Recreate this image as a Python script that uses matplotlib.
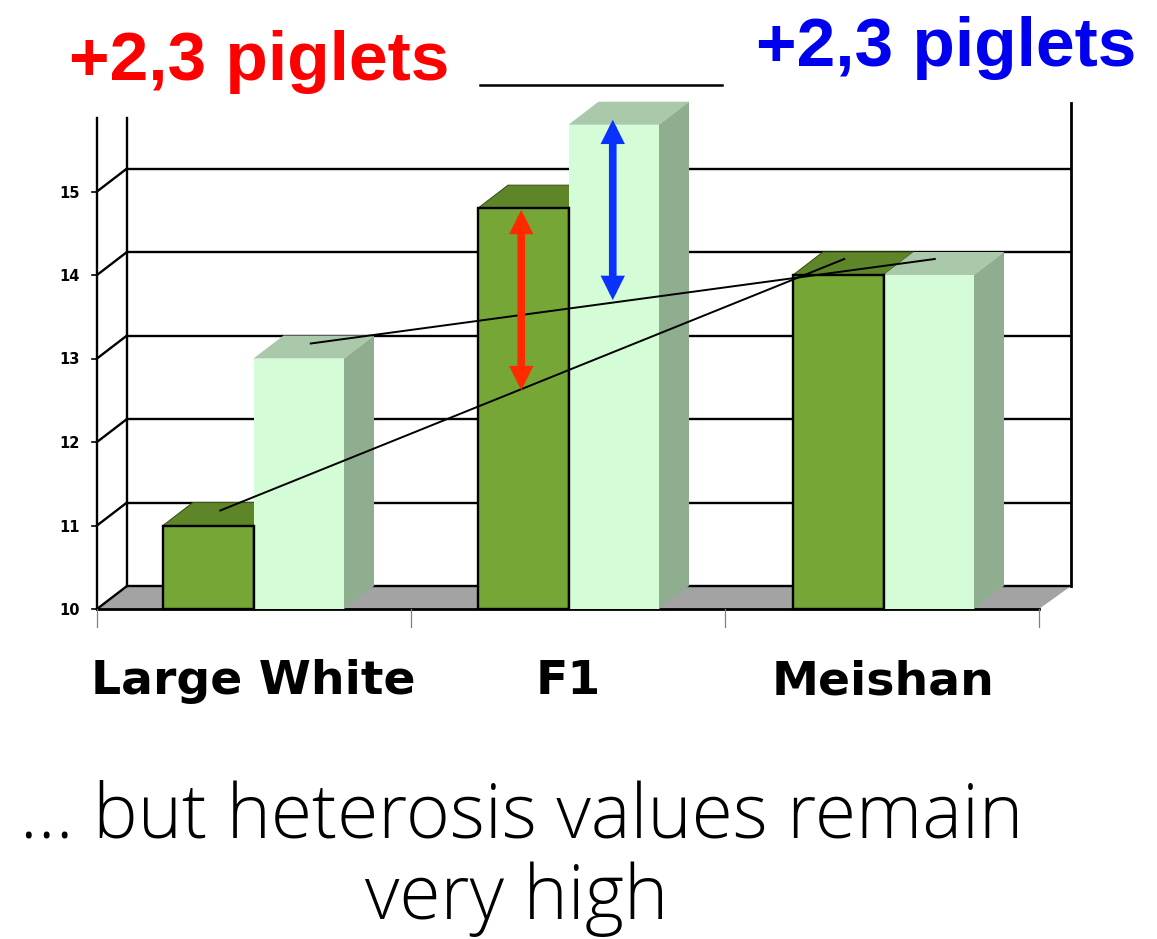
import numpy as np
import matplotlib
matplotlib.use('Agg')
import matplotlib.pyplot as plt
from matplotlib.patches import Polygon, FancyArrowPatch

W, H = 1157, 939

categories = ['Large White', 'F1', 'Meishan']
dark_values = [11.0, 14.8, 14.0]
light_values = [13.0, 15.8, 14.0]
y_ticks = [10, 11, 12, 13, 14, 15]
red_arrow = [14.78, 12.62]
blue_arrow = [15.86, 13.70]

GREEN = '#76a636'
GREEN_TOP = '#5f8529'
LIGHT = '#d4fcd6'
LIGHT_TOP = '#aac8aa'
LIGHT_SIDE = '#8fae8f'
FLOOR = '#a3a3a3'

fig = plt.figure(figsize=(W / 100, H / 100), dpi=100, facecolor='white')
ax = fig.add_axes([0, 0, 1, 1])
ax.axis('off')

# one category = 314 px, one unit on y = 83.5 px
sx, sy = 314.0, 83.5
ax.set_xlim(-97 / sx, (W - 97) / sx)
ax.set_ylim(10 - (H - 609) / sy, 10 + 609 / sy)

dx, dy = 30 / sx, 23 / sy    # depth of the fake 3d
wall_dx = 32 / sx
bar_w = 90.5 / sx
bar_off = 66 / sx
step = 315 / sx              # bars drift a little against the ticks
n = len(categories)
wall_right = n + wall_dx
y_top = y_ticks[0] + (609 - 118) / sy
wall_top = y_ticks[0] + (609 - 103) / sy

# floor
ax.add_patch(Polygon([[0, 10], [dx, 10 + dy], [wall_right, 10 + dy], [n, 10]], fc=FLOOR, ec='none', zorder=1))

# walls and grid
for t in y_ticks:
    ax.plot([0, dx], [t, t + dy], color='black', lw=1.7, zorder=2)
    ax.plot([dx, wall_right], [t + dy, t + dy], color='black', lw=1.7, zorder=2)
    ax.plot([-5 / sx, 0], [t, t], color='black', lw=1.2, zorder=2)
    ax.text(-17 / sx, t - 1.5 / sy, str(t), ha='right', va='center', fontsize=10.5, fontweight='bold', family='DejaVu Sans')
ax.plot([0, 0], [10, y_top], color='black', lw=1.7, zorder=2)
ax.plot([dx, dx], [10 + dy, y_top], color='black', lw=1.7, zorder=2)
ax.plot([wall_right, wall_right], [10 + dy, wall_top], color='black', lw=2, zorder=2)
ax.plot([0, n], [10, 10], color='black', lw=2, zorder=2)
for i in range(n + 1):
    ax.plot([i, i], [10, 10 - 18 / sy], color='#808080', lw=0.9, zorder=2)

# bars, left to right
for i in range(n):
    x0 = i * step + bar_off
    x1 = x0 + bar_w
    v = dark_values[i]
    ax.add_patch(Polygon([[x0, v], [x0 + dx, v + dy], [x1 + dx, v + dy], [x1, v]], fc=GREEN_TOP, ec='#3c5518', lw=0.8, zorder=3))
    ax.bar(x0, v - 10, bottom=10, width=bar_w, align='edge', color=GREEN, edgecolor='black', linewidth=1.7, zorder=4)
    v2 = light_values[i]
    ax.add_patch(Polygon([[x1, v2], [x1 + dx, v2 + dy], [x1 + bar_w + dx, v2 + dy], [x1 + bar_w, v2]], fc=LIGHT_TOP, ec='none', zorder=5))
    ax.add_patch(Polygon([[x1 + bar_w, 10], [x1 + bar_w + dx, 10 + dy], [x1 + bar_w + dx, v2 + dy], [x1 + bar_w, v2]], fc=LIGHT_SIDE, ec='none', zorder=5))
    ax.bar(x1, v2 - 10, bottom=10, width=bar_w, align='edge', color=LIGHT, edgecolor='none', zorder=6)
    # redraw the edge shared with the green bar
    ax.plot([x1, x1], [10, v], color='black', lw=1.7, zorder=7)
    ax.text(x1, 10 - 73 / sy, categories[i], ha='center', va='center', fontsize=34, fontweight='bold', family='DejaVu Sans')

# lines between the parents, on top of the bars
xd = [i * step + bar_off + bar_w / 2 for i in range(n)]
xl = [i * step + bar_off + 1.5 * bar_w for i in range(n)]
ax.plot([xd[0] + 12 / sx, xd[2] + 6 / sx], [dark_values[0] + 15 / sy, dark_values[2] + 16 / sy], color='black', lw=1.4, zorder=8)
ax.plot([xl[0] + 12 / sx, xl[2] + 6 / sx], [light_values[0] + 15 / sy, light_values[2] + 16 / sy], color='black', lw=1.4, zorder=8)

# arrows
style = '<|-|>,head_length=12,head_width=6'
ax.add_patch(FancyArrowPatch((xd[1] - 2 / sx, red_arrow[0]), (xd[1] - 2 / sx, red_arrow[1]), arrowstyle=style, mutation_scale=0.72,
                             color='#ff2a00', lw=5.5, shrinkA=0, shrinkB=0, joinstyle='miter', zorder=9))
ax.add_patch(FancyArrowPatch((xl[1] - 1 / sx, blue_arrow[0]), (xl[1] - 1 / sx, blue_arrow[1]), arrowstyle=style, mutation_scale=0.72,
                             color='#0a32ff', lw=5.5, shrinkA=0, shrinkB=0, joinstyle='miter', zorder=9))

# header and caption
fig.add_artist(plt.Line2D([480 / W, 722 / W], [1 - 85 / H, 1 - 85 / H], color='black', lw=1.8))
fig.text(69 / W, 1 - 80 / H, '+2,3 piglets', color='#ff0000', ha='left', va='baseline', fontsize=50, fontweight='bold', family='Liberation Sans')
fig.text(756 / W, 1 - 66 / H, '+2,3 piglets', color='#0000ee', ha='left', va='baseline', fontsize=50, fontweight='bold', family='Liberation Sans')
fig.text(522 / W, 1 - 838 / H, '… but heterosis values remain', ha='center', va='baseline', fontsize=54, fontweight='light', family='Open Sans')
fig.text(517 / W, 1 - 919 / H, 'very high', ha='center', va='baseline', fontsize=54, fontweight='light', family='Open Sans')

fig.savefig('out.png', dpi=100)
